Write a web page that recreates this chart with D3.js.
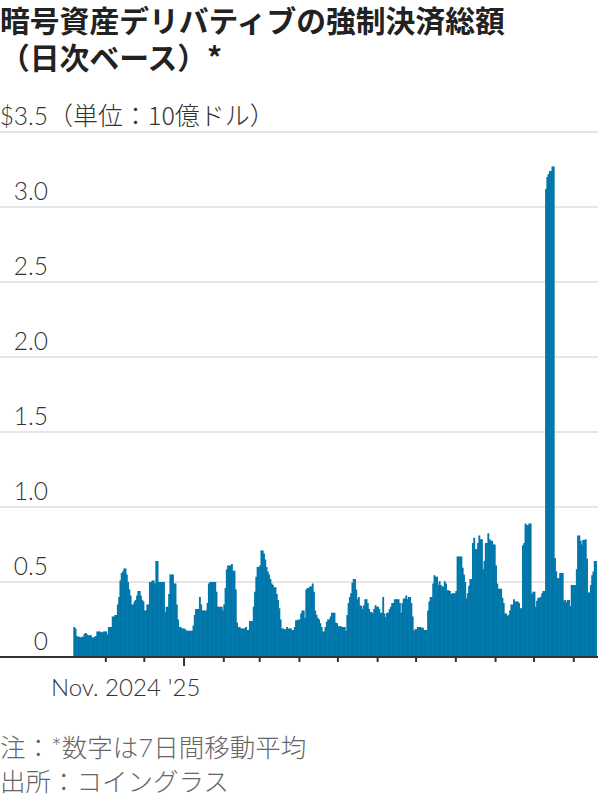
<!DOCTYPE html>
<html>
<head>
<meta charset="utf-8">
<script src="https://cdn.jsdelivr.net/npm/d3@7"></script>
<style>
  html, body { margin: 0; padding: 0; background: #fff; }
  svg { display: block; }
</style>
</head>
<body>
<svg id="chart" width="600" height="800"></svg>
<script>
// ---- Data ----
const titleLines = ["暗号資産デリバティブの強制決済総額", "（日次ベース）*"];
const unitLabel = "（単位：10億ドル）";
const notes = ["注：*数字は7日間移動平均", "出所：コイングラス"];
const startDate = "2024-10-07"; // first daily bar
// 7-day moving average of liquidations, $ billions, one per day
const values = [
  0.20,0.19,0.14,0.135,0.135,0.13,0.135,0.135,0.155,0.16,
  0.15,0.145,0.145,0.145,0.13,0.13,0.135,0.14,0.17,0.17,
  0.17,0.165,0.165,0.17,0.17,0.17,0.15,0.20,0.20,0.20,
  0.27,0.27,0.28,0.28,0.35,0.40,0.51,0.56,0.57,0.59,
  0.59,0.55,0.50,0.45,0.41,0.35,0.35,0.37,0.38,0.41,
  0.44,0.44,0.41,0.38,0.37,0.31,0.31,0.35,0.35,0.50,
  0.50,0.51,0.51,0.49,0.64,0.64,0.50,0.50,0.50,0.50,
  0.50,0.30,0.335,0.335,0.42,0.55,0.55,0.55,0.49,0.49,
  0.35,0.25,0.20,0.20,0.19,0.19,0.19,0.18,0.175,0.175,
  0.175,0.175,0.175,0.21,0.28,0.32,0.32,0.32,0.40,0.35,
  0.31,0.31,0.31,0.31,0.36,0.49,0.50,0.50,0.50,0.50,
  0.50,0.435,0.335,0.335,0.335,0.335,0.31,0.35,0.46,0.585,
  0.61,0.61,0.61,0.62,0.575,0.575,0.45,0.23,0.20,0.20,
  0.19,0.19,0.19,0.19,0.20,0.18,0.18,0.24,0.24,0.24,
  0.335,0.435,0.535,0.60,0.60,0.61,0.71,0.71,0.69,0.65,
  0.60,0.57,0.55,0.52,0.49,0.48,0.465,0.465,0.42,0.38,
  0.325,0.25,0.19,0.19,0.185,0.185,0.20,0.19,0.19,0.19,
  0.18,0.18,0.20,0.245,0.245,0.25,0.25,0.29,0.31,0.31,
  0.26,0.45,0.46,0.46,0.47,0.47,0.49,0.435,0.31,0.28,
  0.26,0.25,0.225,0.20,0.17,0.17,0.20,0.235,0.25,0.25,
  0.27,0.295,0.295,0.295,0.23,0.225,0.205,0.205,0.205,0.20,
  0.20,0.20,0.175,0.28,0.36,0.40,0.425,0.495,0.52,0.52,
  0.45,0.385,0.40,0.345,0.34,0.32,0.345,0.385,0.385,0.36,
  0.32,0.30,0.30,0.29,0.32,0.345,0.335,0.335,0.32,0.295,
  0.295,0.40,0.29,0.265,0.295,0.295,0.32,0.335,0.36,0.36,
  0.385,0.385,0.385,0.385,0.36,0.295,0.36,0.39,0.39,0.41,
  0.385,0.40,0.40,0.36,0.27,0.175,0.185,0.185,0.20,0.20,
  0.20,0.195,0.195,0.18,0.18,0.18,0.31,0.37,0.40,0.40,
  0.49,0.545,0.535,0.535,0.48,0.505,0.48,0.47,0.47,0.505,
  0.49,0.445,0.445,0.44,0.42,0.425,0.425,0.425,0.44,0.67,
  0.67,0.67,0.67,0.595,0.55,0.50,0.39,0.425,0.475,0.52,
  0.52,0.76,0.795,0.72,0.72,0.76,0.81,0.785,0.785,0.585,
  0.64,0.76,0.76,0.825,0.785,0.775,0.775,0.75,0.75,0.61,
  0.49,0.455,0.455,0.455,0.395,0.36,0.29,0.29,0.275,0.28,
  0.31,0.35,0.35,0.385,0.37,0.37,0.37,0.36,0.325,0.325,
  0.745,0.76,0.89,0.88,0.88,0.89,0.89,0.42,0.435,0.435,
  0.335,0.375,0.395,0.395,0.40,0.425,0.44,0.44,3.12,3.20,
  3.22,3.24,3.24,3.27,3.27,0.66,0.57,0.525,0.525,0.56,
  0.56,0.56,0.375,0.38,0.365,0.38,0.38,0.34,0.48,0.48,
  0.48,0.48,0.585,0.81,0.81,0.775,0.75,0.78,0.78,0.785,
  0.655,0.43,0.43,0.48,0.545,0.57,0.64,0.64
];
const yTicks = [0, 0.5, 1.0, 1.5, 2.0, 2.5, 3.0, 3.5];
const yTickLabels = ["0", "0.5", "1.0", "1.5", "2.0", "2.5", "3.0", "$3.5"];
const xLabelMap = {"2024-11": "Nov. 2024", "2025-01": "'25"};

// ---- Chart ----
const svg = d3.select("#chart");
const latin = "Lato, 'Noto Sans CJK JP', sans-serif";
const cjk = "'Noto Sans CJK JP', sans-serif";

const parse = d3.utcParse("%Y-%m-%d");
const start = parse(startDate);
const data = values.map((v, i) => ({date: d3.utcDay.offset(start, i), value: v}));
const end = d3.utcDay.offset(start, values.length);

const x = d3.scaleUtc().domain([start, end]).range([73.3, 73.3 + 1.282 * values.length]);
const y = d3.scaleLinear().domain([0, 3.5]).range([657, 132]);

// Title
svg.append("g").selectAll("text").data(titleLines).join("text")
  .attr("x", 0).attr("y", (d, i) => 32 + i * 37)
  .attr("font-family", cjk).attr("font-weight", "bold")
  .attr("font-size", 29.8).attr("fill", "#222")
  .text(d => d);

// Gridlines
svg.append("g").selectAll("line").data(yTicks.filter(d => d > 0)).join("line")
  .attr("x1", 0).attr("x2", 598)
  .attr("y1", d => y(d)).attr("y2", d => y(d))
  .attr("stroke", "#dedede").attr("stroke-width", 1.5);

// Y labels
const yl = svg.append("g");
yl.selectAll("text").data(yTicks).join("text")
  .attr("x", 48).attr("y", d => y(d) - 7)
  .attr("text-anchor", "end")
  .attr("font-family", latin).attr("font-weight", 300)
  .attr("font-size", 24.5).attr("fill", "#333")
  .text((d, i) => yTickLabels[i]);
yl.append("text")
  .attr("x", 48).attr("y", y(3.5) - 7)
  .attr("font-family", cjk).attr("font-weight", 300)
  .attr("font-size", 25).attr("fill", "#333")
  .text(unitLabel);

// Bars
const bw = x(d3.utcDay.offset(start, 1)) - x(start);
svg.append("g").selectAll("rect").data(data).join("rect")
  .attr("x", d => x(d.date))
  .attr("width", bw + 0.6)
  .attr("y", d => y(d.value))
  .attr("height", d => y(0) - y(d.value))
  .attr("fill", "#0077aa");

// X axis
const months = d3.utcMonth.range(d3.utcMonth.ceil(start), end);
const xAxis = d3.axisBottom(x)
  .tickValues(months)
  .tickSize(5)
  .tickFormat(d => xLabelMap[d3.utcFormat("%Y-%m")(d)] || "");
const gx = svg.append("g").attr("transform", "translate(0,657)").call(xAxis);
gx.select(".domain").remove();
gx.selectAll(".tick line").attr("stroke", "#333").attr("stroke-width", 2)
  .attr("y2", d => d.getUTCMonth() === 0 ? 9 : 5);
gx.selectAll(".tick text").attr("font-family", latin).attr("font-weight", 300)
  .attr("font-size", 24).attr("fill", "#333").attr("y", 22).attr("dy", "0.71em");
svg.append("line").attr("x1", 0).attr("x2", 598).attr("y1", 657).attr("y2", 657)
  .attr("stroke", "#333").attr("stroke-width", 2);

// Notes
svg.append("g").selectAll("text").data(notes).join("text")
  .attr("x", 0).attr("y", (d, i) => 757 + i * 34)
  .attr("font-family", latin).attr("font-weight", 300)
  .attr("font-size", 25.5).attr("fill", "#666")
  .text(d => d);
</script>
</body>
</html>
